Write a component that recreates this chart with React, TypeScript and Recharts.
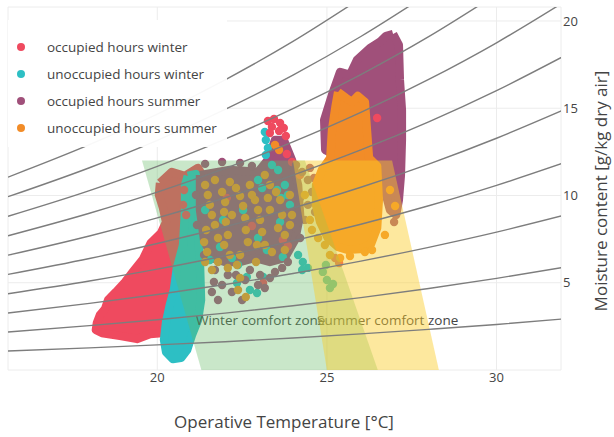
import React from 'react'
import { ScatterChart, Scatter, XAxis, YAxis, CartesianGrid } from 'recharts'

const RED = '#EF4A5F'
const TEAL = '#2DBFC4'
const PURPLE = '#A0507A'
const ORANGE = '#F28C28'

const seriesNames = [
  'occupied hours winter',
  'unoccupied hours winter',
  'occupied hours summer',
  'unoccupied hours summer',
]
const seriesColors = [RED, TEAL, PURPLE, ORANGE]

const xTicks = [20, 25, 30]
const yTicks = [5, 10, 15, 20]

// relative humidity curves 10%..100%: moisture content [g/kg] at rhTemps
const rhTemps = [15.6, 18, 20, 22, 24, 26, 28, 30, 32]
const rh10 = [1.09, 1.27, 1.44, 1.62, 1.83, 2.07, 2.33, 2.61, 2.93]
const rh20 = [2.18, 2.54, 2.88, 3.26, 3.68, 4.15, 4.67, 5.25, 5.89]
const rh30 = [3.27, 3.82, 4.33, 4.9, 5.53, 6.24, 7.03, 7.9, 8.87]
const rh40 = [4.37, 5.1, 5.78, 6.55, 7.4, 8.35, 9.41, 10.58, 11.88]
const rh50 = [5.48, 6.39, 7.25, 8.21, 9.28, 10.47, 11.8, 13.28, 14.92]
const rh60 = [6.58, 7.68, 8.72, 9.87, 11.17, 12.61, 14.22, 16.01, 18.0]
const rh70 = [7.69, 8.98, 10.19, 11.55, 13.07, 14.76, 16.65, 18.75, 21.1]
const rh80 = [8.81, 10.28, 11.67, 13.23, 14.98, 16.93, 19.1, 21.53]
const rh90 = [9.93, 11.59, 13.16, 14.93, 16.9, 19.11, 21.57]
const rh100 = [11.05, 12.91, 14.66, 16.63, 18.83, 21.3]
const rhCurves = [rh10, rh20, rh30, rh40, rh50, rh60, rh70, rh80, rh90, rh100]

// comfort zones [temperature, moisture]
const winterZone = [[19.55, 12], [24.35, 12], [26.5, 0], [21.3, 0]]
const summerZone = [[24.0, 12], [26.92, 12], [28.3, 0], [25.0, 0]]
const winterLabelAt = [21.14, 2.58]
const summerLabelAt = [24.71, 2.58]

// dense clouds of points, outlined by their edge points
const redCore = [[20.08, 10.72], [20.43, 11.35], [20.82, 11.12], [21.2, 11.58], [21.44, 10.77], [21.26, 9.46], [21.05, 7.74], [20.9, 6.3], [20.61, 5.85], [20.37, 3.73], [20.26, 2.87], [20.14, 2.12], [19.79, 2.06], [19.4, 1.78], [18.9, 1.95], [18.37, 2.12], [18.19, 2.29], [18.22, 2.69], [18.31, 3.15], [18.46, 3.49], [18.55, 4.01], [18.78, 4.47], [19.05, 5.04], [19.28, 5.62], [19.58, 6.36], [19.81, 7.28], [20.11, 7.85], [20.26, 8.48], [20.17, 9.28], [20.05, 10.03]]
const tealCore = [[20.9, 11.12], [21.14, 11.23], [21.23, 10.31], [21.2, 8.02], [21.26, 6.02], [21.29, 4.01], [21.2, 2.87], [21.02, 2.0], [20.88, 1.15], [20.7, 0.69], [20.46, 0.63], [20.26, 1.03], [20.2, 1.72], [20.26, 2.75], [20.37, 3.73], [20.49, 4.58], [20.58, 5.85], [20.76, 7.16], [20.82, 9.17], [20.82, 10.6]]
const purpleMidCore = [[21.26, 11.17], [22.14, 11.46], [22.97, 11.35], [23.26, 12.03], [23.47, 13.18], [23.73, 13.18], [23.97, 12.03], [24.15, 10.6], [24.21, 8.88], [24.06, 7.45], [23.76, 6.42], [23.32, 6.19], [22.88, 6.42], [22.44, 6.19], [22.0, 6.19], [21.61, 6.42], [21.38, 7.45], [21.26, 9.17]]
const purpleMainCore = [[26.95, 19.25], [27.12, 18.62], [27.15, 16.62], [27.21, 14.9], [27.21, 13.18], [27.18, 11.17], [27.12, 9.74], [27.04, 8.88], [26.86, 9.17], [26.74, 10.03], [26.5, 11.17], [26.12, 11.58], [25.53, 12.03], [24.95, 12.61], [24.92, 14.33], [25.15, 15.76], [25.39, 17.08], [25.68, 16.91], [25.89, 17.77], [26.27, 18.45], [26.56, 18.8], [26.74, 19.14]]
const orangeCore = [[25.33, 15.93], [25.56, 15.59], [25.74, 15.36], [25.91, 15.7], [26.12, 15.36], [26.18, 13.75], [26.24, 12.15], [26.48, 11.69], [26.53, 9.74], [26.48, 8.14], [26.3, 7.22], [25.97, 6.93], [25.62, 6.88], [25.33, 7.05], [25.03, 7.56], [24.8, 8.48], [24.68, 9.46], [24.68, 10.6], [24.85, 11.46], [25.1, 12.15], [25.15, 13.75], [25.25, 15.05]]

// scattered single points
const tealPts = [[22.97, 10.89], [23.09, 10.43], [23.17, 13.64], [23.2, 13.18], [23.26, 12.72], [23.2, 12.32], [23.38, 11.75], [23.56, 11.46], [23.53, 10.31], [23.65, 9.86], [22.97, 7.56], [23.23, 6.88], [23.62, 8.48], [22.2, 6.42], [22.38, 6.02], [22.35, 4.99], [22.64, 5.33], [22.73, 4.58], [22.94, 4.41], [23.12, 5.33], [21.85, 7.05], [21.55, 6.3], [21.41, 9.17], [21.94, 8.6], [22.53, 9.17], [23.7, 6.48], [24.15, 6.59], [24.29, 6.19], [24.44, 5.85], [24.27, 5.73], [23.76, 10.6], [23.85, 10.03], [23.91, 9.46], [24.88, 5.62], [25.0, 5.16], [25.09, 4.7], [25.18, 4.93], [24.97, 6.02]]
const redPts = [[23.26, 14.27], [23.44, 14.38], [23.62, 14.15], [23.73, 13.87], [23.38, 13.93], [23.59, 13.7], [23.79, 13.41], [23.32, 13.58], [20.79, 10.31], [20.76, 9.46], [20.85, 8.88], [23.7, 7.45], [23.85, 7.11], [23.12, 4.99], [23.82, 12.38], [23.97, 11.92], [24.21, 11.17], [22.05, 9.86], [22.79, 8.25], [25.24, 6.42], [25.36, 6.13], [26.48, 14.44]]
const purplePts = [[21.7, 5.73], [21.67, 5.04], [21.61, 4.47], [21.91, 4.87], [22.08, 5.44], [22.32, 5.44], [22.59, 5.16], [22.73, 5.73], [22.97, 4.87], [23.17, 4.7], [23.32, 5.27], [23.47, 5.62], [23.68, 5.85], [23.85, 6.19], [23.03, 5.44], [22.2, 4.47], [22.5, 4.01], [21.79, 4.01], [24.09, 11.75], [24.27, 11.35], [24.44, 10.89], [24.62, 11.0], [24.8, 10.6], [24.56, 10.2], [24.74, 9.74], [24.44, 9.46], [24.21, 9.86], [24.65, 9.05], [24.35, 8.6], [24.09, 8.14], [24.85, 9.17], [24.97, 10.03], [24.5, 11.58], [26.98, 8.48], [21.41, 11.81], [21.91, 11.92], [22.44, 11.86], [22.79, 11.69], [21.14, 10.03], [21.17, 8.31], [24.21, 7.56], [21.38, 6.59]]
const orangePts = [[25.09, 6.59], [25.39, 6.42], [25.68, 6.53], [26.12, 6.76], [26.33, 6.88], [24.94, 7.16], [24.74, 7.56], [24.56, 8.02], [26.86, 10.31], [27.01, 9.4], [26.71, 7.74], [24.5, 8.6], [24.35, 10.03], [21.41, 10.6], [21.49, 10.03], [21.55, 9.46], [21.61, 8.88], [21.44, 8.02], [21.38, 7.33], [21.47, 6.76], [21.41, 6.19], [21.91, 10.2], [22.0, 9.63], [21.97, 9.05], [22.02, 8.48], [22.08, 7.74], [21.97, 7.16], [22.32, 10.43], [22.44, 9.97], [22.53, 9.4], [22.59, 8.71], [22.61, 8.02], [22.67, 7.33], [22.44, 6.59], [22.35, 6.02], [22.44, 5.27], [22.38, 4.58], [22.61, 4.18], [22.88, 9.74], [22.97, 9.17], [23.03, 8.6], [23.09, 7.91], [22.94, 7.16], [23.32, 10.6], [23.5, 10.2], [23.62, 9.74], [23.68, 8.88], [23.56, 8.14], [23.76, 7.74], [23.47, 12.89], [23.59, 12.61], [21.7, 10.89], [22.14, 10.77], [22.73, 10.6], [23.17, 11.17], [23.91, 10.03], [23.97, 8.88], [21.79, 6.19], [22.14, 6.59], [23.32, 9.17], [23.17, 7.16], [23.38, 6.76], [23.91, 8.31], [21.7, 8.31], [21.79, 7.56], [22.2, 8.88], [22.79, 10.03], [23.26, 9.86], [23.76, 6.88], [22.91, 6.19], [21.61, 5.73], [22.08, 5.85]]

const toPts = (a: number[][]) => a.map(([t, w]) => ({ t, w }))
const closed = (a: number[][]) => toPts([...a, a[0]])

const noShape = () => <g />
const dot = (color: string) => (p: any) => <circle cx={p.cx} cy={p.cy} r={4.2} fill={color} />
const font = "'Open Sans', sans-serif"
const tickStyle = { fill: '#444', fontSize: 13, fontFamily: font }

const cores: [number[][], string][] = [
  [redCore, RED],
  [tealCore, TEAL],
  [purpleMidCore, PURPLE],
  [purpleMainCore, PURPLE],
]
const singles: [number[][], string][] = [
  [tealPts, TEAL],
  [redPts, RED],
  [purplePts, PURPLE],
]

function coreSeries(data: number[][], color: string, key: string) {
  return (
    <Scatter
      key={key}
      data={closed(data)}
      shape={noShape}
      line={{ fill: color, stroke: color, strokeWidth: 8.4, strokeLinejoin: 'round' }}
      lineJointType="linear"
      isAnimationActive={false}
    />
  )
}

function labelShape(text: string) {
  return (p: any) => (
    <text x={p.cx} y={p.cy} fill="#444" fontSize={13.5} fontFamily={font}>
      {text}
    </text>
  )
}

export default function App() {
  return (
    <div style={{ position: 'absolute', left: 0, top: 0, width: 614, height: 437, background: '#fff' }}>
      <ScatterChart width={614} height={437} margin={{ top: 7, right: 0, bottom: 0, left: 8 }}>
        <CartesianGrid stroke="#ececec" />
        <XAxis
          type="number"
          dataKey="t"
          domain={[15.6, 31.9]}
          ticks={xTicks}
          allowDataOverflow
          tickLine={false}
          axisLine={false}
          height={67}
          tickSize={0}
          tickMargin={3}
          tick={tickStyle}
        />
        <YAxis
          type="number"
          dataKey="w"
          orientation="right"
          domain={[0, 20.8]}
          ticks={yTicks}
          allowDataOverflow
          tickLine={false}
          axisLine={false}
          width={53}
          tickSize={0}
          tickMargin={2}
          tick={tickStyle}
        />
        {cores.map(([d, c], i) => coreSeries(d, c, 'core' + i))}
        {singles.map(([d, c], i) => (
          <Scatter key={'pts' + i} data={toPts(d)} shape={dot(c)} isAnimationActive={false} />
        ))}
        {coreSeries(orangeCore, ORANGE, 'orangeCore')}
        <Scatter data={toPts(orangePts)} shape={dot(ORANGE)} isAnimationActive={false} />

        <Scatter data={toPts([winterLabelAt])} shape={labelShape('Winter comfort zone')} isAnimationActive={false} />
        <Scatter data={toPts([summerLabelAt])} shape={labelShape('Summer comfort zone')} isAnimationActive={false} />

        <Scatter
          data={closed(winterZone)}
          shape={noShape}
          line={{ fill: 'rgba(100,185,100,0.35)', stroke: 'none' }}
          lineJointType="linear"
          isAnimationActive={false}
        />
        <Scatter
          data={closed(summerZone)}
          shape={noShape}
          line={{ fill: 'rgba(250,205,40,0.45)', stroke: 'none' }}
          lineJointType="linear"
          isAnimationActive={false}
        />

        {rhCurves.map((c, i) => (
          <Scatter
            key={'rh' + i}
            data={c.map((w, j) => ({ t: rhTemps[j], w }))}
            shape={noShape}
            line={{ stroke: '#7d7d7d', strokeWidth: 1.4, fill: 'none' }}
            lineJointType="monotoneX"
            isAnimationActive={false}
          />
        ))}
      </ScatterChart>

      <div
        style={{
          position: 'absolute',
          left: 8,
          top: 20,
          width: 219,
          height: 127,
          background: 'rgba(255,255,255,0.95)',
        }}
      />
      <div style={{ position: 'absolute', left: 8, top: 33, fontFamily: font }}>
        {seriesNames.map((n, i) => (
          <div key={n} style={{ display: 'flex', alignItems: 'center', height: 27 }}>
            <span
              style={{
                width: 8,
                height: 8,
                borderRadius: 4,
                background: seriesColors[i],
                marginLeft: 9,
                marginRight: 22,
              }}
            />
            <span style={{ fontSize: 13.5, color: '#444', whiteSpace: 'nowrap' }}>{n}</span>
          </div>
        ))}
      </div>

      <svg width={614} height={437} style={{ position: 'absolute', left: 0, top: 0, pointerEvents: 'none' }}>
        <text x={284} y={428} textAnchor="middle" fill="#444" fontSize={17} fontFamily={font}>
          Operative Temperature [°C]
        </text>
        <text
          x={607}
          y={191}
          textAnchor="middle"
          transform="rotate(-90 607 191)"
          fill="#444"
          fontSize={17}
          fontFamily={font}
        >
          Moisture content [g/kg dry air]
        </text>
      </svg>
    </div>
  )
}
